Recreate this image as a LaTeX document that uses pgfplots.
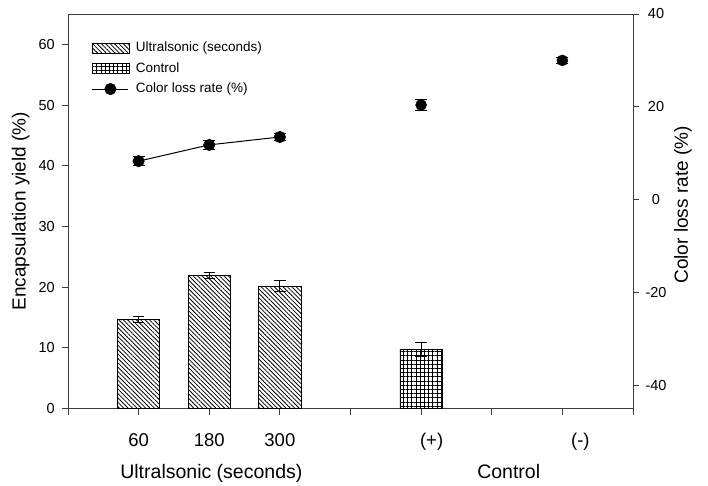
\documentclass[border=0pt]{standalone}
\usepackage{fontspec}
\setmainfont{Liberation Sans}
\usepackage{pgfplots}
\pgfplotsset{compat=1.18}
\usetikzlibrary{patterns.meta}

\definecolor{framegray}{RGB}{60,60,60}

\tikzset{
  ultra/.style={pattern={Lines[angle=-45,distance=3.1bp,line width=0.8bp]}},
  ctrl/.style={pattern={Hatch[angle=0,distance=4.2bp,line width=0.6bp]}},
}

\pgfplotsset{
  common/.style={
    scale only axis, width=565bp, height=394.5bp,
    xmin=0, xmax=8,
    tick align=outside,
    major tick length=6bp,
    axis line style={line width=1bp, draw=framegray},
    tick style={line width=1bp, draw=framegray},
    /pgf/number format/assume math mode=true,
  },
  boxlegend/.style={legend image code/.code={\draw[##1] (0bp,-5bp) rectangle (36.5bp,5bp);}},
  errs/.style={error bars/.cd, y dir=both, y explicit,
    error bar style={line width=1bp, black},
    error mark options={rotate=90, black, mark size=#1, line width=1bp}},
}

\begin{document}
\begin{tikzpicture}
\begin{axis}[
  common,
  name=main,
  ymin=0, ymax=65,
  xtick={0,...,8},
  xticklabels={,60,180,300,,\hspace*{21bp}(+),,\hspace*{36bp}(-),},
  ytick={0,10,...,60},
  xtick pos=left, ytick pos=left,
  xticklabel style={font=\fontsize{18.5bp}{22bp}\selectfont, anchor=base, yshift=-32bp},
  yticklabel style={font=\fontsize{14.5bp}{17bp}\selectfont, xshift=-3.8bp},
  ylabel={Encapsulation yield (\%)},
  every axis y label/.style={at={(rel axis cs:0,0.5)}, xshift=-47.3bp, rotate=90, anchor=center, font=\fontsize{19bp}{23bp}\selectfont},
  clip=false,
]
% ultrasonic treatments
\addplot[ybar, bar width=0.6, bar shift=0pt, draw=black, line width=0.8bp, ultra, errs=5.7bp]
  coordinates {(1,14.7) +- (0,0.45) (2,21.9) +- (0,0.55) (3,20.15) +- (0,0.95)};
% positive control
\addplot[ybar, bar width=0.6, bar shift=0pt, draw=black, line width=0.8bp, ctrl, errs=5.7bp]
  coordinates {(5,9.8) +- (0,1.15)};

\node[font=\fontsize{19.5bp}{23bp}\selectfont, anchor=base] at (axis cs:2.03,0) [yshift=-70.2bp] {Ultralsonic (seconds)};
\node[font=\fontsize{19.5bp}{23bp}\selectfont, anchor=base] at (axis cs:6.24,0) [yshift=-70.2bp] {Control};
\end{axis}

\begin{axis}[
  common,
  ymin=-45, ymax=40,
  axis x line=none,
  axis y line*=right,
  tick align=outside,
  ytick={-40,-20,0,20,40},
  yticklabel style={font=\fontsize{14.5bp}{17bp}\selectfont, anchor=center, xshift=17bp},
  ylabel={Color loss rate (\%)},
  every axis y label/.style={at={(rel axis cs:1,0.516)}, xshift=50bp, rotate=90, anchor=center, font=\fontsize{19bp}{23bp}\selectfont},
  legend style={at={(rel axis cs:0.042,0.932)}, anchor=north west, draw=none, fill=none,
    inner sep=0pt, column sep=6bp, row sep=6.5bp,
    font=\fontsize{13.5bp}{16bp}\selectfont,
    nodes={inner sep=0.5bp, text height=10bp, text depth=3bp},
    cells={anchor=west}},
  legend image code/.code={\draw[mark repeat=2, mark phase=2, #1] plot coordinates {(0bp,0bp) (18bp,0bp) (36bp,0bp)};},
]
\addlegendimage{boxlegend, draw=black, line width=0.8bp, ultra}
\addlegendentry{Ultralsonic (seconds)}
\addlegendimage{boxlegend, draw=black, line width=0.8bp, ctrl}
\addlegendentry{Control}

\addplot[black, line width=1bp, mark=*, mark size=5.5bp, mark options={solid, fill=black}, errs=6bp]
  coordinates {(1,8.3) +- (0,0.9) (2,11.8) +- (0,0.9) (3,13.5) +- (0,0.85)};
\addlegendentry{Color loss rate (\%)}

\addplot[only marks, black, mark=*, mark size=5.5bp, forget plot, errs=6bp]
  coordinates {(5,20.4) +- (0,1.25) (7,30.0) +- (0,0.6)};
\end{axis}

\pgfresetboundingbox
\path[use as bounding box] ([shift={(-68bp,-77.5bp)}]main.south west) rectangle ++(708bp,486bp);
\end{tikzpicture}
\end{document}
